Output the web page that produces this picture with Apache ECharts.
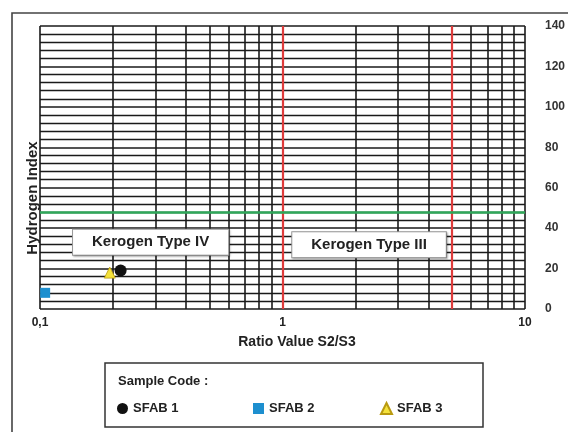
<!DOCTYPE html>
<html>
<head>
<meta charset="utf-8">
<script src="https://cdn.jsdelivr.net/npm/echarts@6/dist/echarts.min.js"></script>
<style>
html,body{margin:0;padding:0;background:#fff;}
#chart{width:568px;height:432px;}
</style>
</head>
<body>
<div id="chart"></div>
<script>
// ---- data ----
const sampleNames = ['SFAB 1', 'SFAB 2', 'SFAB 3'];
const ratioS2S3 = [0.215, 0.105, 0.194];
const hydrogenIndex = [19, 8, 18];
const xTickValues = [0.1, 1, 10];
const minorRatioLines = [0.2, 0.3, 0.4, 0.5, 0.6, 0.7, 0.8, 0.9, 2, 3, 4, 5, 6, 7, 8, 9];
const boundaryRatio = [1, 5];
const boundaryHI = [48];
const zoneLabels = ['Kerogen Type IV', 'Kerogen Type III'];
const zoneLabelRatio = [0.286, 2.275];
const zoneLabelHI = [33, 31.8];

const symbols = ['circle', 'rect', 'triangle'];
const colors = ['#111111', '#1d8fcf', '#f4e23c'];
const borders = ['#111111', '#1d8fcf', '#b99a10'];
const sizes = [12, 10, 11];
const FONT = 'Liberation Sans, Arial, sans-serif';

const chart = echarts.init(document.getElementById('chart'));

const scatterSeries = sampleNames.map((name, i) => ({
  name: name,
  type: 'scatter',
  symbol: symbols[i],
  symbolSize: sizes[i],
  itemStyle: { color: colors[i], borderColor: borders[i], borderWidth: i === 2 ? 0.8 : 0, opacity: 1 },
  data: [[ratioS2S3[i], hydrogenIndex[i]]],
  z: 5
}));

const legendLefts = [117, 253, 380];
const legends = sampleNames.map((name, i) => ({
  data: [name],
  left: legendLefts[i],
  top: 402,
  padding: 0,
  itemWidth: 11,
  itemHeight: 11,
  itemGap: 5,
  selectedMode: false,
  textStyle: { fontFamily: FONT, fontSize: 13, fontWeight: 'bold', color: '#222' }
}));

const option = {
  animation: false,
  backgroundColor: '#ffffff',
  grid: { left: 40, right: 38, top: 26, bottom: 123 },
  legend: legends,
  xAxis: {
    type: 'log',
    logBase: 10,
    min: 0.1,
    max: 10,
    axisLine: { show: false },
    axisTick: { show: false },
    axisLabel: {
      margin: 8,
      fontFamily: FONT, fontSize: 12, fontWeight: 'bold', color: '#222',
      formatter: v => xTickValues.some(t => Math.abs(t - v) < 1e-9 * Math.max(1, v))
        ? String(+(+v).toPrecision(6)).replace('.', ',') : ''
    },
    splitLine: { show: true, lineStyle: { color: '#1a1a1a', width: 1.6 } }
  },
  yAxis: {
    type: 'value',
    position: 'right',
    min: 0,
    max: 140,
    interval: 20,
    axisLine: { show: false },
    axisTick: { show: false },
    axisLabel: { margin: 20, fontFamily: FONT, fontSize: 12, fontWeight: 'bold', color: '#333' },
    splitLine: { show: true, lineStyle: { color: '#1a1a1a', width: 1.5 } },
    minorTick: { show: false, splitNumber: 5 },
    minorSplitLine: { show: true, lineStyle: { color: '#1a1a1a', width: 1.3 } }
  },
  series: [
    {
      name: 'grid',
      type: 'scatter',
      data: [],
      silent: true,
      z: 1,
      markLine: {
        silent: true,
        symbol: 'none',
        label: { show: false },
        lineStyle: { color: '#1a1a1a', width: 1.6, type: 'solid' },
        data: minorRatioLines.map(v => ({ xAxis: v }))
      }
    },
    {
      name: 'zones',
      type: 'scatter',
      data: [],
      silent: true,
      z: 3,
      markLine: {
        silent: true,
        symbol: 'none',
        label: { show: false },
        data: boundaryRatio.map(v => ({ xAxis: v, lineStyle: { color: '#de3b3b', width: 2.2, type: 'solid' } }))
          .concat(boundaryHI.map(v => ({ yAxis: v, lineStyle: { color: '#2fa85a', width: 2.5, type: 'solid' } })))
      },
      markPoint: {
        silent: true,
        symbol: 'rect',
        symbolSize: 0,
        label: {
          show: true,
          position: 'inside',
          fontFamily: FONT, fontSize: 15, fontWeight: 'bold', color: '#222',
          backgroundColor: '#ffffff',
          borderColor: '#9a9a9a', borderWidth: 1,
          padding: [5, 19],
          shadowColor: 'rgba(0,0,0,0.25)', shadowBlur: 2, shadowOffsetX: 1, shadowOffsetY: 1,
          formatter: p => p.name
        },
        data: zoneLabels.map((n, i) => ({ name: n, coord: [zoneLabelRatio[i], zoneLabelHI[i]] }))
      }
    }
  ].concat(scatterSeries),
  graphic: [
    { type: 'rect', shape: { x: 12, y: 13, width: 620, height: 480 }, style: { fill: 'none', stroke: '#444', lineWidth: 1.6 }, z: 0, silent: true },
    { type: 'text', x: 33, y: 198, rotation: Math.PI / 2,
      style: { text: 'Hydrogen Index', fontFamily: FONT, fontSize: 15, fontWeight: 'bold', fill: '#222', align: 'center', verticalAlign: 'middle' } },
    { type: 'text', x: 297, y: 342,
      style: { text: 'Ratio Value S2/S3', fontFamily: FONT, fontSize: 14, fontWeight: 'bold', fill: '#222', align: 'center', verticalAlign: 'middle' } },
    { type: 'rect', shape: { x: 105, y: 363, width: 378, height: 64 }, style: { fill: 'none', stroke: '#333', lineWidth: 1.5 }, silent: true },
    { type: 'text', x: 118, y: 381,
      style: { text: 'Sample Code :', fontFamily: FONT, fontSize: 13, fontWeight: 'bold', fill: '#222', align: 'left', verticalAlign: 'middle' } }
  ]
};
chart.setOption(option);
</script>
</body>
</html>
